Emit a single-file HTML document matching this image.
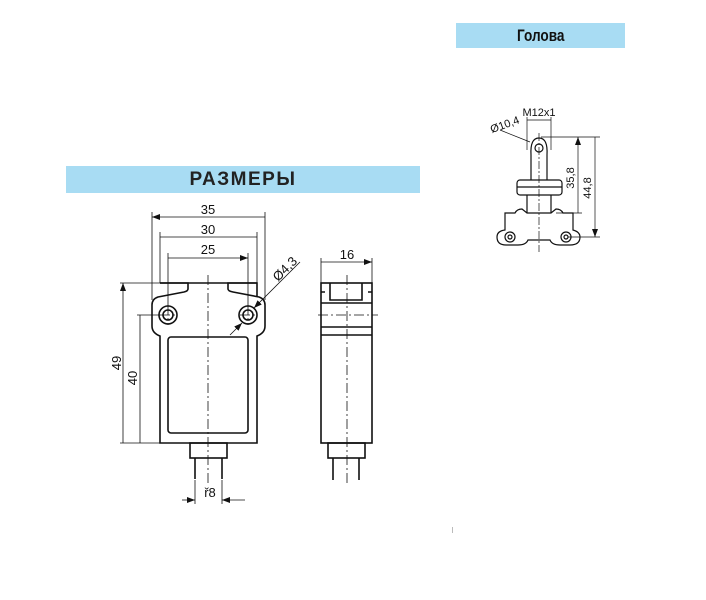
<!DOCTYPE html>
<html><head><meta charset="utf-8"><style>
html,body{margin:0;padding:0;background:#fff;}
body{width:706px;height:600px;position:relative;overflow:hidden;font-family:"Liberation Sans",sans-serif;}
.bar{position:absolute;background:#a8dcf3;}
</style></head><body>
<div class="bar" style="left:66px;top:166px;width:354px;height:27px;"></div>
<div style="position:absolute;left:66px;top:166px;width:354px;height:27px;line-height:27px;text-align:center;font-weight:bold;font-size:19px;letter-spacing:1.5px;color:#222;">РАЗМЕРЫ</div>
<div class="bar" style="left:456px;top:23px;width:169px;height:25px;"></div>
<div style="position:absolute;left:456px;top:23px;width:169px;height:25px;line-height:25px;text-align:center;font-weight:bold;font-size:17px;color:#111;"><span style="display:inline-block;transform:scaleX(0.8)">Голова</span></div>
<svg width="706" height="600" style="position:absolute;left:0;top:0" xmlns="http://www.w3.org/2000/svg">
<defs><marker id="a" markerWidth="8" markerHeight="6" refX="8" refY="3" orient="auto-start-reverse" markerUnits="userSpaceOnUse"><path d="M0,0 L8,3 L0,6z" fill="#111"/></marker></defs>
<g stroke="#111" fill="none" stroke-width="1.6">
<path d="M160,283 H257"/>
<path d="M160,283 H188 V289 Q188,291 184,292 L158,297 Q152,299 152,305 V326 Q152,333 160,336 V443 H257 V336 Q265,333 265,326 V305 Q265,299 259,297 L233,292 Q228,291 228,289 V283 H257 V297"/>
<rect x="168" y="337" width="80" height="96" rx="3"/>
<circle cx="168" cy="315" r="9"/><circle cx="168" cy="315" r="5"/>
<circle cx="248" cy="315" r="9"/><circle cx="248" cy="315" r="5"/>
<rect x="190" y="443" width="37" height="15"/>
<path d="M195,458 V479 M222,458 V479"/>
<rect x="321" y="283" width="51" height="160"/>
<path d="M330,283 V300 H362 V283 M321,292 H325 M368,292 H372 M321,303 H372 M321,327 H372 M321,335 H372"/>
<rect x="328" y="443" width="37" height="15"/>
<path d="M333,458 V480 M359,458 V480"/>
</g>
<g stroke="#111" fill="none" stroke-width="0.8">
<path d="M208,275 V486 M347,275 V484 M318,315 H378 M160,315 H176 M240,315 H256 M168,305 V325 M248,305 V325" stroke-dasharray="10,3,2,3"/>
<path d="M152,212 V300 M265,212 V300 M160,232 V283 M257,232 V283 M168,253 V306 M248,253 V306 M120,283 H160 M137,315 H160 M120,443 H160 M321,258 V283 M372,258 V283 M195,480 V504 M222,480 V504"/>
<path d="M152,217 H265 M160,237 H257 M168,258 H248" marker-start="url(#a)" marker-end="url(#a)"/>
<path d="M123,283 V443 M140,315 V443 M321,262 H372" marker-start="url(#a)" marker-end="url(#a)"/>
<path d="M182,500 H195" marker-end="url(#a)"/><path d="M245,500 H222" marker-end="url(#a)"/>
<path d="M230,335 L242,323" marker-end="url(#a)"/><path d="M300,262 L254,308" marker-end="url(#a)"/>
</g>
<g fill="#111" font-family="Liberation Sans,sans-serif" font-size="13" text-anchor="middle">
<text x="208" y="214">35</text><text x="208" y="234">30</text><text x="208" y="254">25</text>
<text x="347" y="259">16</text>
<text x="210" y="497">ř8</text>
<text transform="translate(121,363) rotate(-90)">49</text>
<text transform="translate(137,378) rotate(-90)">40</text>
<text transform="translate(288,272) rotate(-45)">Ø4,3</text>
</g>
<g stroke="#111" fill="none" stroke-width="1.2">
<path d="M531,155 V180 M547,155 V180 M531,155 Q530,138 539,138 Q548,138 547,155"/>
<circle cx="539" cy="148" r="4"/>
<rect x="517" y="180" width="45" height="15" rx="3"/>
<path d="M517,187 H562"/>
<path d="M527,195 V213 M551,195 V213"/>
<path d="M505,213 H515 Q517,209 522,209 L527,213 H551 L556,209 Q561,209 563,213 H573 V230 Q580,232 580,237 Q580,245 570,245 H560 Q552,245 550,240 H528 Q526,245 518,245 H506 Q497,245 497,237 Q497,231 505,230 Z"/>
<circle cx="510" cy="237" r="5"/><circle cx="510" cy="237" r="2"/>
<circle cx="566" cy="237" r="5"/><circle cx="566" cy="237" r="2"/>
</g>
<g stroke="#111" fill="none" stroke-width="0.7">
<path d="M539,133 V252" stroke-dasharray="8,2,2,2"/>
<path d="M527,117 V150 M551,117 V150 M527,120 H551 M541,137 H600 M556,213 H582 M568,237 H600"/>
<path d="M578,137 V213 M595,137 V237" marker-start="url(#a)" marker-end="url(#a)"/>
<path d="M500,130 L530,142"/>
</g>
<g fill="#111" font-family="Liberation Sans,sans-serif" font-size="11" text-anchor="middle">
<text x="539" y="116">M12x1</text>
<text transform="translate(506,128) rotate(-20)">Ø10,4</text>
<text transform="translate(574,178) rotate(-90)">35,8</text>
<text transform="translate(591,188) rotate(-90)">44,8</text>
</g>
<rect x="452" y="527" width="1" height="6" fill="#bbb"/>
</svg>
</body></html>
